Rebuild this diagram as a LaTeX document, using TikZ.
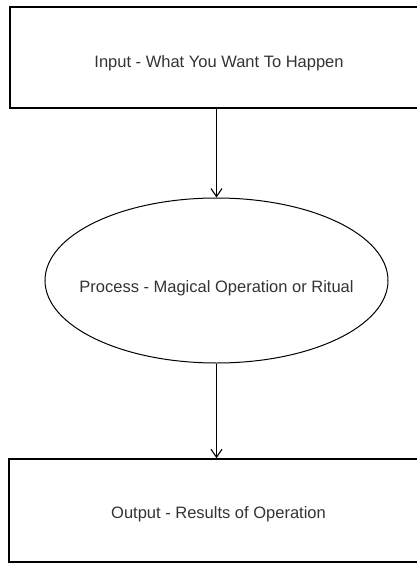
\documentclass[tikz,border=0pt]{standalone}
\usepackage{fontspec}
\setmainfont{Liberation Sans}
\usepackage{tikz}
\usetikzlibrary{positioning, arrows.meta, shapes.geometric}
\tikzset{
    stage/.style={rectangle, draw, line width=1.8pt, inner sep=0pt, text=black!80, text depth=3.5pt},
    ritual/.style={ellipse, draw, line width=1pt, inner xsep=-20pt, inner ysep=0pt, text=black!80, text depth=3.5pt},
    arrow/.style={-{Straight Barb[length=8pt, width=11pt]}, line width=1.1pt, black}
}

\begin{document}
\begin{tikzpicture}[x=1pt, y=1pt,
    every node/.style={font=\fontsize{16.5}{19}\selectfont, align=center}]

\useasboundingbox (0,0) rectangle (417,-563);
\clip (0,0) rectangle (417,-563);

\node[stage, minimum width=418pt, minimum height=101pt, text height=24pt] (input) at (219,-57.5) {Input - What You Want To Happen};
\node[ritual, minimum width=343pt, minimum height=165pt, text height=28pt] (process) at (216.5,-280.5) {Process - Magical Operation or Ritual};
\node[stage, line width=1.6pt, minimum width=419pt, minimum height=103pt, text height=20pt] (output) at (218.5,-510.5) {Output - Results of Operation};

\draw[arrow] (input.south -| process.north) -- (process.north);
\draw[arrow] (process.south) -- (process.south |- output.north);
\end{tikzpicture}
\end{document}
